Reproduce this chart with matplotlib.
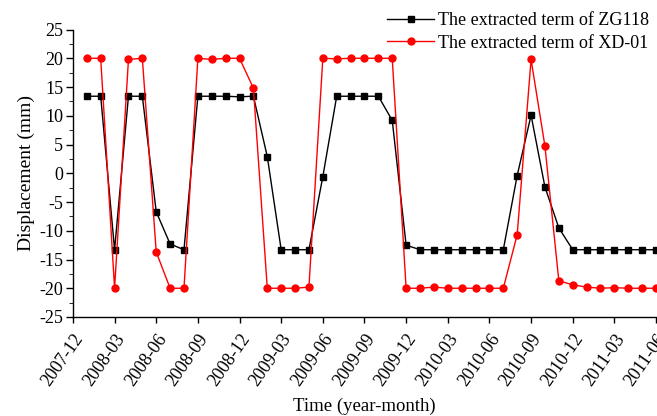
import numpy as np
import matplotlib.pyplot as plt

plt.rcParams['font.family'] = ['Liberation Serif', 'DejaVu Serif']
plt.rcParams['axes.unicode_minus'] = False

# monthly series, 2008-01 .. 2011-06
zg118 = [13.4, 13.4, -13.3, 13.4, 13.4, -6.7, -12.3, -13.3, 13.4, 13.4,
         13.4, 13.3, 13.4, 2.9, -13.3, -13.3, -13.3, -0.6, 13.4, 13.4,
         13.4, 13.4, 9.2, -12.5, -13.3, -13.3, -13.3, -13.3, -13.3, -13.3,
         -13.3, -0.4, 10.1, -2.4, -9.5, -13.3, -13.3, -13.3, -13.3, -13.3,
         -13.3, -13.3]
xd01 = [20.0, 20.0, -20.0, 19.8, 20.0, -13.7, -20.0, -20.0, 20.0, 19.8,
        20.0, 20.0, 14.8, -20.0, -20.0, -20.0, -19.8, 20.0, 19.9, 20.0,
        20.0, 20.0, 20.0, -20.0, -20.0, -19.8, -20.0, -20.0, -20.0, -20.0,
        -20.0, -10.7, 19.8, 4.7, -18.7, -19.4, -19.8, -20.0, -19.9, -20.0,
        -20.0, -20.0]
tick_labels = ['2007-12', '2008-03', '2008-06', '2008-09', '2008-12',
               '2009-03', '2009-06', '2009-09', '2009-12', '2010-03',
               '2010-06', '2010-09', '2010-12', '2011-03', '2011-06']

# months counted from 2007-12
x = np.arange(1, len(zg118) + 1)

fig = plt.figure(figsize=(6.57, 4.16), dpi=100)
ax = fig.add_axes([0.111, 0.238, 0.8875, 0.691])

ax.plot(x, zg118, color='black', marker='s', markersize=4.5, linewidth=1,
        label='The extracted term of ZG118', clip_on=False)
ax.plot(x, xd01, color='red', marker='o', markersize=5, linewidth=1,
        label='The extracted term of XD-01', clip_on=False)

ax.set_xlim(0, 42)
ax.set_ylim(-25, 25)
ax.set_xticks(np.arange(0, 43, 3))
ax.set_xticklabels(tick_labels, rotation=55, ha='right', rotation_mode='anchor')
ax.set_yticks(np.arange(-25, 26, 5))
ax.set_yticks(np.arange(-25, 25, 2.5), minor=True)
ax.tick_params(axis='both', direction='out', labelsize=13, width=1)
ax.tick_params(axis='y', which='major', length=5, pad=2)
ax.tick_params(axis='y', which='minor', length=3)
ax.tick_params(axis='x', length=4, pad=6)

for s in ['top', 'right']:
    ax.spines[s].set_visible(False)
ax.spines['left'].set_linewidth(1)
ax.spines['bottom'].set_linewidth(1)

ax.set_xlabel('Time (year-month)', fontsize=13.5, labelpad=6)
ax.set_ylabel('Displacement (mm)', fontsize=14, labelpad=3)

ax.legend(loc='upper right', bbox_to_anchor=(1.0, 1.085), frameon=False,
          fontsize=13, handlelength=2.6, handletextpad=0.2,
          borderaxespad=0, labelspacing=0.3)

fig.savefig('out.png', dpi=100)
